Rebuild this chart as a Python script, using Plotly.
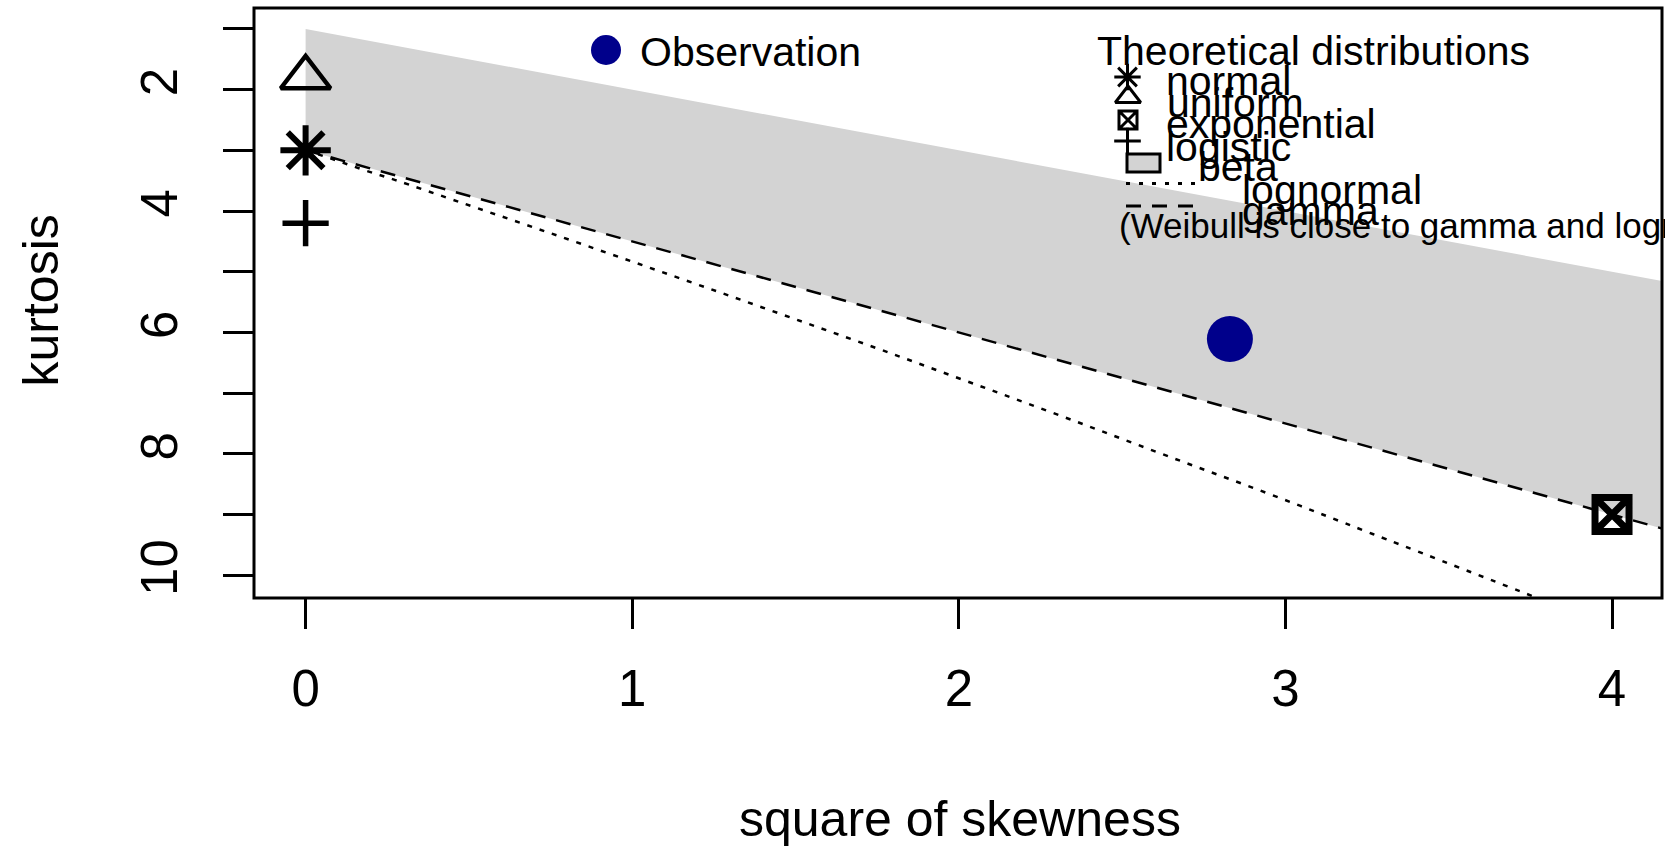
import plotly.graph_objects as go

# ---------------- data ----------------
obs_s2 = [2.83]
obs_kurt = [6.11]

theo_names = ["normal", "uniform", "exponential", "logistic"]
theo_s2 = [0.0, 0.0, 4.0, 0.0]
theo_kurt = [3.0, 1.8, 9.0, 4.2]

# beta region: upper limit and lower limit (gamma line)
beta_upper_s2 = [0.0, 4.6]
beta_upper_kurt = [1.0, 5.6]
gamma_s2 = [0.0, 4.6]
gamma_kurt = [3.0, 9.9]

lognorm_s2 = [0.0, 0.091, 0.182, 0.275, 0.465, 0.709, 0.961, 1.221, 1.488,
              1.764, 2.048, 2.340, 2.641, 2.950, 3.267, 3.793]
lognorm_kurt = [3.0, 3.16, 3.33, 3.49, 3.84, 4.29, 4.76, 5.25, 5.76,
                6.29, 6.85, 7.43, 8.04, 8.66, 9.32, 10.42]

x_ticks = [0, 1, 2, 3, 4]
x_ticklabels = ["0", "1", "2", "3", "4"]
y_ticks = [1, 2, 3, 4, 5, 6, 7, 8, 9, 10]
y_ticklabels = ["", "2", "", "4", "", "6", "", "8", "", "10"]

x_range = [-0.158, 4.153]
y_range = [10.375, 0.655]

legend_theo = ["normal", "uniform", "exponential", "logistic", "beta", "lognormal", "gamma"]
legend_note = "(Weibull is close to gamma and lognormal)"

# ---------------- layout geometry (pixels) ----------------
W, H = 1665, 849
L, R, T, B = 254, 1662, 8, 598
FONT = "Liberation Sans, Arial, sans-serif"
GREY = "#d3d3d3"


def px(x):
    return (x - L) / (R - L)


def py(y):
    return (B - y) / (B - T)


fig = go.Figure()

# beta region
fig.add_trace(go.Scatter(
    x=beta_upper_s2 + gamma_s2[::-1],
    y=beta_upper_kurt + gamma_kurt[::-1],
    fill="toself", fillcolor=GREY, mode="lines",
    line=dict(width=0, color=GREY), hoverinfo="skip", showlegend=False))

# gamma line
fig.add_trace(go.Scatter(
    x=gamma_s2, y=gamma_kurt, mode="lines",
    line=dict(color="black", width=2.5, dash="15px,11px"),
    showlegend=False))

# lognormal line
fig.add_trace(go.Scatter(
    x=lognorm_s2, y=lognorm_kurt, mode="lines",
    line=dict(color="black", width=2.5, dash="5px,8px", shape="spline"),
    showlegend=False))

# theoretical points
sym_map = {"normal": ("asterisk-open", 42, 6),
           "uniform": ("triangle-up-open", 43, 4.5),
           "exponential": ("square-x-open", 34, 7),
           "logistic": ("cross-thin-open", 33, 5.5)}
for n, xs, ys in zip(theo_names, theo_s2, theo_kurt):
    s, size, lw = sym_map[n]
    fig.add_trace(go.Scatter(
        x=[xs], y=[ys], mode="markers",
        marker=dict(symbol=s, size=size, color="black",
                    line=dict(color="black", width=lw)),
        cliponaxis=False, showlegend=False, name=n))

# observation
fig.add_trace(go.Scatter(
    x=obs_s2, y=obs_kurt, mode="markers",
    marker=dict(symbol="circle", size=46, color="#00008b", line=dict(width=0)),
    showlegend=False, name="Observation"))

# ---------------- hand-built legend (overlay axes in plot fractions) ----------------
leg_marks = [
    (606, 50, "circle", 30, 0, "#00008b"),
    (1127.5, 77, "asterisk-open", 22, 3, "black"),
    (1128, 97, "triangle-up-open", 22, 3, "black"),
    (1128, 120, "square-x-open", 18, 3, "black"),
    (1127.5, 141, "cross-thin-open", 19, 3, "black"),
]
for x0, y0, s, size, lw, col in leg_marks:
    fig.add_trace(go.Scatter(
        x=[px(x0)], y=[py(y0)], xaxis="x2", yaxis="y2", mode="markers",
        marker=dict(symbol=s, size=size, color=col,
                    line=dict(color=col, width=lw)),
        cliponaxis=False, showlegend=False, hoverinfo="skip"))

shapes = [
    # plot box
    dict(type="rect", xref="paper", yref="paper", x0=0, x1=1, y0=0, y1=1,
         line=dict(color="black", width=3), layer="above"),
    # beta legend box
    dict(type="rect", xref="paper", yref="paper",
         x0=px(1127), x1=px(1160), y0=py(172), y1=py(154),
         fillcolor=GREY, line=dict(color="black", width=3), layer="above"),
    # lognormal legend line
    dict(type="line", xref="paper", yref="paper",
         x0=px(1126), x1=px(1197), y0=py(183.5), y1=py(183.5),
         line=dict(color="black", width=3, dash="4px,9px")),
    # gamma legend line
    dict(type="line", xref="paper", yref="paper",
         x0=px(1126), x1=px(1195), y0=py(206), y1=py(206),
         line=dict(color="black", width=3, dash="15px,11px")),
]

annotations = []


def add_text(text, x_left, y_base, size):
    annotations.append(dict(
        text=text, xref="paper", yref="paper",
        x=px(x_left - 2), y=py(y_base - 0.3465 * size),
        xanchor="left", yanchor="middle", showarrow=False,
        font=dict(family=FONT, size=size, color="black")))


add_text("Observation", 640, 66.7, 41)
add_text("Theoretical distributions", 1097, 65, 41)
leg_pos = [(1166, 95), (1167, 117), (1166, 138), (1166, 161.7),
           (1198, 181.7), (1242, 204), (1242, 225)]
for name, (xl, yb) in zip(legend_theo, leg_pos):
    add_text(name, xl, yb, 41)
add_text(legend_note, 1119, 238, 35)

# axis titles
annotations.append(dict(
    text="kurtosis", xref="paper", yref="paper", x=px(40.5), y=py(301),
    xanchor="center", yanchor="middle", textangle=-90, showarrow=False,
    font=dict(family=FONT, size=50, color="black")))
annotations.append(dict(
    text="square of skewness", xref="paper", yref="paper", x=px(960), y=py(819.4),
    xanchor="center", yanchor="middle", showarrow=False,
    font=dict(family=FONT, size=50, color="black")))

fig.update_layout(
    width=W, height=H,
    margin=dict(l=L, r=W - R, t=T, b=H - B, pad=0),
    paper_bgcolor="white", plot_bgcolor="white",
    showlegend=False,
    xaxis=dict(range=x_range, tickvals=x_ticks, ticktext=x_ticklabels,
               ticks="outside", ticklen=30, tickwidth=3, tickcolor="black",
               showgrid=False, zeroline=False, showline=False,
               tickfont=dict(family=FONT, size=51, color="black"),
               ticklabelstandoff=16),
    yaxis=dict(range=y_range, tickvals=y_ticks, ticktext=y_ticklabels,
               ticks="outside", ticklen=30, tickwidth=3, tickcolor="black",
               showgrid=False, zeroline=False, showline=False, tickangle=-90,
               tickfont=dict(family=FONT, size=51, color="black"),
               ticklabelstandoff=26),
    xaxis2=dict(overlaying="x", range=[0, 1], visible=False, fixedrange=True),
    yaxis2=dict(overlaying="y", range=[0, 1], visible=False, fixedrange=True),
    shapes=shapes,
    annotations=annotations,
)

fig.write_html(
    "out.html",
    config={"displayModeBar": False},
    post_script="document.body.style.margin='0';document.body.style.overflow='hidden';",
)
